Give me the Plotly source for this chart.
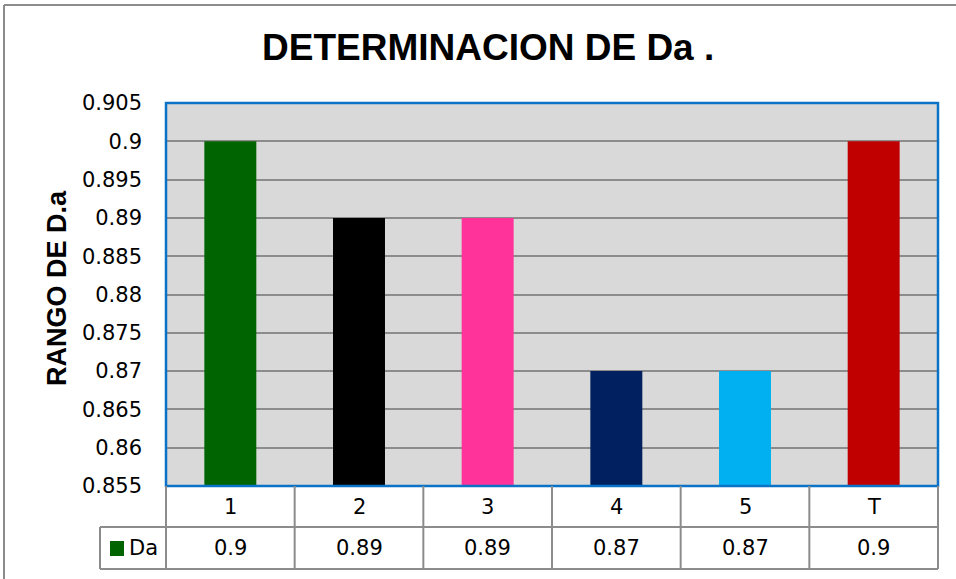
import plotly.graph_objects as go

# ---- data ----
categories = ["1", "2", "3", "4", "5", "T"]
values = [0.9, 0.89, 0.89, 0.87, 0.87, 0.9]
value_labels = ["0.9", "0.89", "0.89", "0.87", "0.87", "0.9"]
bar_colors = ["#006400", "#000000", "#ff3399", "#002060", "#00b0f0", "#c00000"]
series_name = "Da"
tick_vals = [0.855, 0.86, 0.865, 0.87, 0.875, 0.88, 0.885, 0.89, 0.895, 0.9, 0.905]
tick_text = ["0.855", "0.86", "0.865", "0.87", "0.875", "0.88", "0.885", "0.89", "0.895", "0.9", "0.905"]
title_text = "DETERMINACION DE Da ."
y_title = "RANGO DE D.a"

W, H = 956, 579
def px(x):
    return x / W
def py(y):
    return 1 - y / H

PL, PR, PT, PB = 166, 938, 103, 486
ROW1, ROW2 = 527, 569
TABLE_LEFT = 100
GRID = "#8c8c8c"
TXT_FONT = dict(family="DejaVu Sans", size=21, color="black")

fig = go.Figure()
fig.add_trace(go.Bar(
    x=categories, y=values, marker=dict(color=bar_colors, line=dict(width=0)),
    width=0.404, name=series_name, showlegend=False, hoverinfo="x+y",
))

shapes = []
annotations = []

# plot border
shapes.append(dict(type="rect", xref="paper", yref="paper",
                   x0=px(PL), x1=px(PR), y0=py(PB), y1=py(PT),
                   line=dict(color="#0a73c8", width=2.5), layer="above"))

# outer chart border (left and top)
shapes.append(dict(type="line", xref="paper", yref="paper", x0=px(4), x1=px(4), y0=py(5), y1=0,
                   line=dict(color="#8c8c8c", width=2)))
shapes.append(dict(type="line", xref="paper", yref="paper", x0=px(4), x1=1, y0=py(5), y1=py(5),
                   line=dict(color="#8c8c8c", width=2)))

# data table grid
n = len(categories)
bounds = [PL + (PR - PL) * i / n for i in range(n + 1)]
for b in bounds:
    shapes.append(dict(type="line", xref="paper", yref="paper", x0=px(b), x1=px(b),
                       y0=py(PB), y1=py(ROW2), line=dict(color=GRID, width=2)))
shapes.append(dict(type="line", xref="paper", yref="paper", x0=px(TABLE_LEFT), x1=px(TABLE_LEFT),
                   y0=py(ROW1), y1=py(ROW2), line=dict(color=GRID, width=2)))
shapes.append(dict(type="line", xref="paper", yref="paper", x0=px(TABLE_LEFT), x1=px(PR),
                   y0=py(ROW1), y1=py(ROW1), line=dict(color=GRID, width=2)))
shapes.append(dict(type="line", xref="paper", yref="paper", x0=px(TABLE_LEFT), x1=px(PR),
                   y0=py(ROW2), y1=py(ROW2), line=dict(color=GRID, width=2)))

# table text (category index positions on the category axis)
for i, (c, v) in enumerate(zip(categories, value_labels)):
    annotations.append(dict(x=i, xref="x", y=py((PB + ROW1) / 2), yref="paper", text=c,
                            showarrow=False, font=TXT_FONT, xanchor="center", yanchor="middle"))
    annotations.append(dict(x=i, xref="x", y=py((ROW1 + ROW2) / 2), yref="paper", text=v,
                            showarrow=False, font=TXT_FONT, xanchor="center", yanchor="middle"))

# legend key
shapes.append(dict(type="rect", xref="paper", yref="paper", x0=px(110), x1=px(124),
                   y0=py(556), y1=py(541), fillcolor=bar_colors[0], line=dict(width=0)))
annotations.append(dict(x=px(127), y=py(548), xref="paper", yref="paper", text=series_name,
                        showarrow=False, font=TXT_FONT, xanchor="left", yanchor="middle"))

# title
annotations.append(dict(x=px(488), y=py(48), xref="paper", yref="paper", text=title_text,
                        showarrow=False, xanchor="center", yanchor="middle",
                        font=dict(family="Liberation Sans, Arial", size=37, color="black", weight="bold")))
# y title
annotations.append(dict(x=px(57), y=py(288), xref="paper", yref="paper", text=y_title,
                        showarrow=False, xanchor="center", yanchor="middle", textangle=-90,
                        font=dict(family="Liberation Sans, Arial", size=27, color="black", weight="bold")))

fig.update_layout(
    template="none",
    width=W, height=H, margin=dict(l=0, r=0, t=0, b=0, pad=0, autoexpand=False),
    paper_bgcolor="white", plot_bgcolor="#d9d9d9", showlegend=False,
    xaxis=dict(domain=[px(PL), px(PR)], type="category", showticklabels=False, ticks="",
               showgrid=False, zeroline=False, showline=False, fixedrange=True, automargin=False),
    yaxis=dict(domain=[py(PB), py(PT)], range=[0.855, 0.905], tickvals=tick_vals, ticktext=tick_text,
               showgrid=True, gridcolor=GRID, gridwidth=2, zeroline=False, showline=False, ticks="",
               tickfont=TXT_FONT, ticklabelstandoff=23, fixedrange=True, automargin=False),
    shapes=shapes, annotations=annotations, bargap=0.596,
)

fig.write_html("out.html")
